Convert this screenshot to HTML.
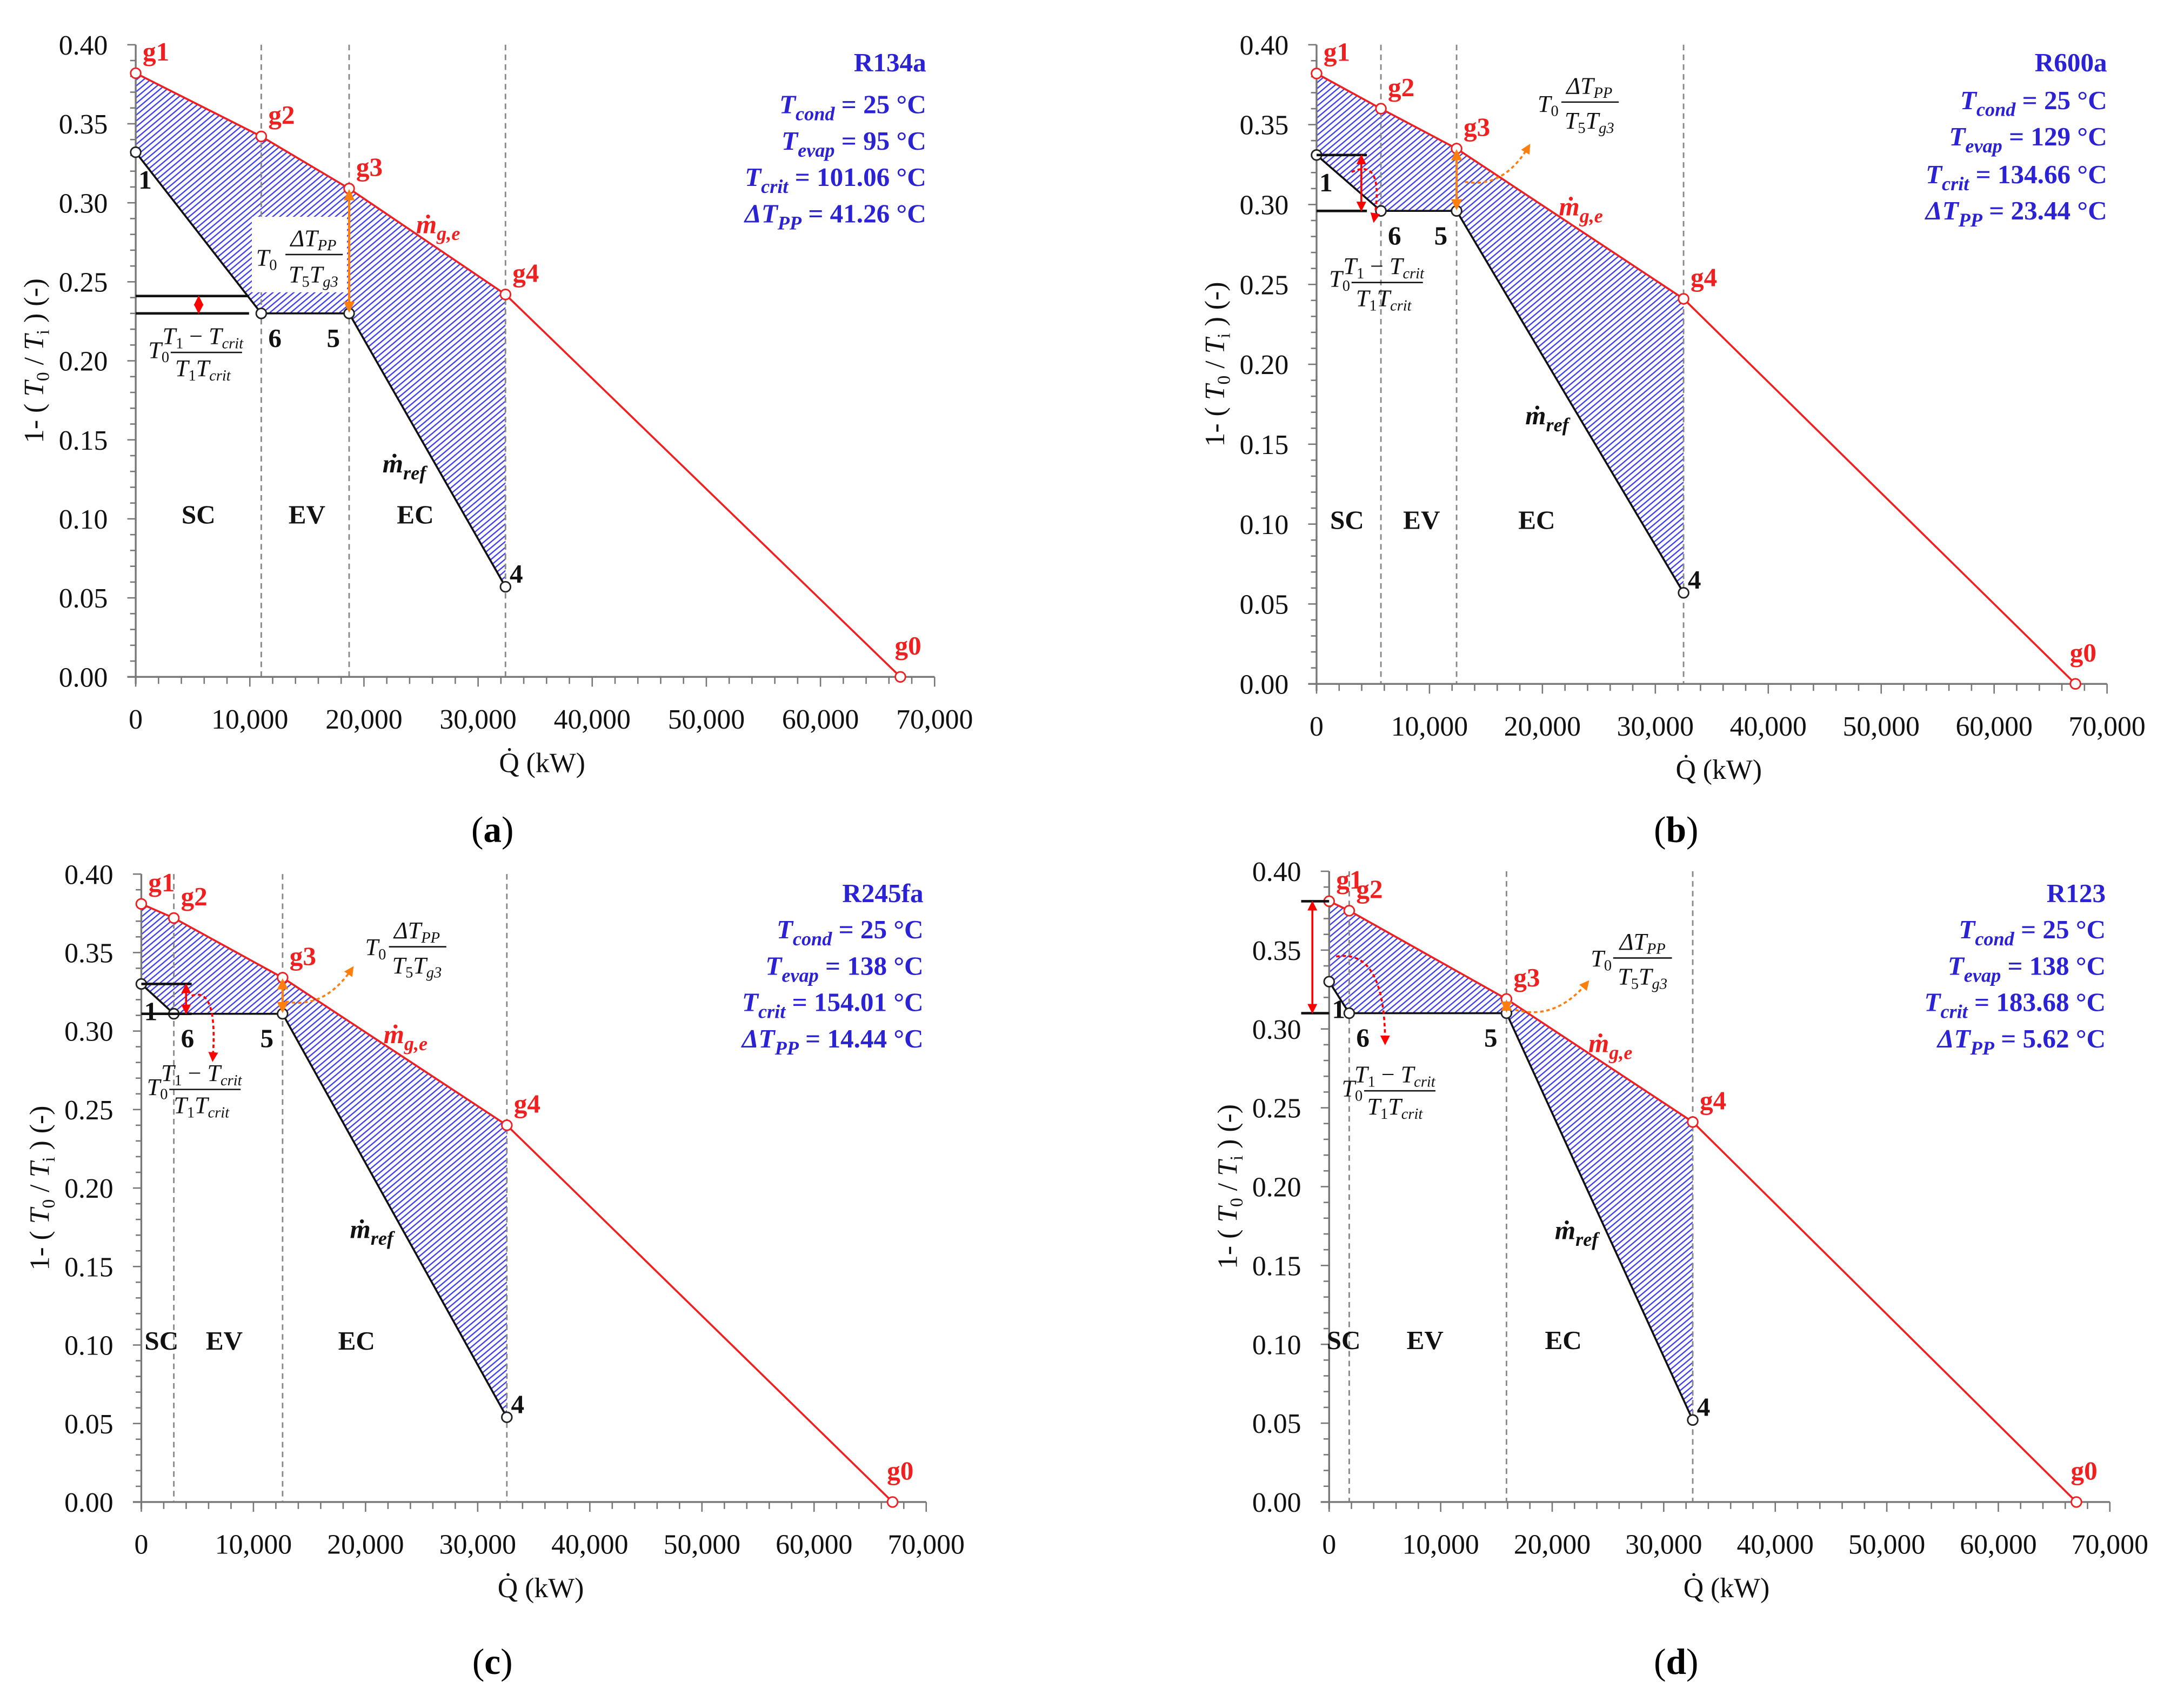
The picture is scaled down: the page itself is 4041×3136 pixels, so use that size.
<!DOCTYPE html>
<html><head><meta charset="utf-8">
<style>
html,body{margin:0;padding:0;background:#fff;}
svg{display:block;}
.tk{font-family:"Liberation Serif",serif;font-size:20px;fill:#111;}
.info{font-family:"Liberation Serif",serif;font-size:19px;font-weight:bold;fill:#2b22d4;}
.fm{font-family:"Liberation Serif",serif;font-style:italic;font-size:17px;fill:#111;}
.pl{font-family:"Liberation Serif",serif;font-size:19px;font-weight:bold;}
</style></head>
<body>
<svg id="fig" width="4041" height="3136" viewBox="0 0 1561 1212" preserveAspectRatio="none" xmlns="http://www.w3.org/2000/svg">
<defs>
<pattern id="hatch" patternUnits="userSpaceOnUse" width="3.2" height="3.2" patternTransform="rotate(50)">
<line x1="0.8" y1="0" x2="0.8" y2="3.2" stroke="#3a3af0" stroke-width="0.9"/>
</pattern>
<marker id="ar" viewBox="0 0 10 10" refX="8" refY="5" markerWidth="5" markerHeight="5" orient="auto-start-reverse"><path d="M0,0 L10,5 L0,10 z" fill="red"/></marker>
<marker id="ao" viewBox="0 0 10 10" refX="8" refY="5" markerWidth="5" markerHeight="5" orient="auto-start-reverse"><path d="M0,0 L10,5 L0,10 z" fill="#ff7f0e"/></marker>
</defs>
<g id="layer"></g>

<!-- info blocks -->
<g class="info" text-anchor="end">
<text x="662" y="51">R134a</text>
<text x="662" y="81"><tspan font-style="italic">T</tspan><tspan font-style="italic" font-size="14" dy="5">cond</tspan><tspan dy="-5"> = 25 °C</tspan></text>
<text x="662" y="107"><tspan font-style="italic">T</tspan><tspan font-style="italic" font-size="14" dy="5">evap</tspan><tspan dy="-5"> = 95 °C</tspan></text>
<text x="662" y="133"><tspan font-style="italic">T</tspan><tspan font-style="italic" font-size="14" dy="5">crit</tspan><tspan dy="-5"> = 101.06 °C</tspan></text>
<text x="662" y="159"><tspan font-style="italic">ΔT</tspan><tspan font-style="italic" font-size="14" dy="5">PP</tspan><tspan dy="-5"> = 41.26 °C</tspan></text>
</g>
<g class="info" text-anchor="end">
<text x="1506" y="51">R600a</text>
<text x="1506" y="78"><tspan font-style="italic">T</tspan><tspan font-style="italic" font-size="14" dy="5">cond</tspan><tspan dy="-5"> = 25 °C</tspan></text>
<text x="1506" y="104"><tspan font-style="italic">T</tspan><tspan font-style="italic" font-size="14" dy="5">evap</tspan><tspan dy="-5"> = 129 °C</tspan></text>
<text x="1506" y="131"><tspan font-style="italic">T</tspan><tspan font-style="italic" font-size="14" dy="5">crit</tspan><tspan dy="-5"> = 134.66 °C</tspan></text>
<text x="1506" y="157"><tspan font-style="italic">ΔT</tspan><tspan font-style="italic" font-size="14" dy="5">PP</tspan><tspan dy="-5"> = 23.44 °C</tspan></text>
</g>
<g class="info" text-anchor="end">
<text x="660" y="645">R245fa</text>
<text x="660" y="671"><tspan font-style="italic">T</tspan><tspan font-style="italic" font-size="14" dy="5">cond</tspan><tspan dy="-5"> = 25 °C</tspan></text>
<text x="660" y="697"><tspan font-style="italic">T</tspan><tspan font-style="italic" font-size="14" dy="5">evap</tspan><tspan dy="-5"> = 138 °C</tspan></text>
<text x="660" y="723"><tspan font-style="italic">T</tspan><tspan font-style="italic" font-size="14" dy="5">crit</tspan><tspan dy="-5"> = 154.01 °C</tspan></text>
<text x="660" y="749"><tspan font-style="italic">ΔT</tspan><tspan font-style="italic" font-size="14" dy="5">PP</tspan><tspan dy="-5"> = 14.44 °C</tspan></text>
</g>
<g class="info" text-anchor="end">
<text x="1505" y="645">R123</text>
<text x="1505" y="671"><tspan font-style="italic">T</tspan><tspan font-style="italic" font-size="14" dy="5">cond</tspan><tspan dy="-5"> = 25 °C</tspan></text>
<text x="1505" y="697"><tspan font-style="italic">T</tspan><tspan font-style="italic" font-size="14" dy="5">evap</tspan><tspan dy="-5"> = 138 °C</tspan></text>
<text x="1505" y="723"><tspan font-style="italic">T</tspan><tspan font-style="italic" font-size="14" dy="5">crit</tspan><tspan dy="-5"> = 183.68 °C</tspan></text>
<text x="1505" y="749"><tspan font-style="italic">ΔT</tspan><tspan font-style="italic" font-size="14" dy="5">PP</tspan><tspan dy="-5"> = 5.62 °C</tspan></text>
</g>

<!-- panel labels -->
<text x="352" y="602" text-anchor="middle" font-family="Liberation Serif, serif" font-size="26">(<tspan font-weight="bold">a</tspan>)</text>
<text x="1198" y="602" text-anchor="middle" font-family="Liberation Serif, serif" font-size="26">(<tspan font-weight="bold">b</tspan>)</text>
<text x="352" y="1197" text-anchor="middle" font-family="Liberation Serif, serif" font-size="26">(<tspan font-weight="bold">c</tspan>)</text>
<text x="1198" y="1197" text-anchor="middle" font-family="Liberation Serif, serif" font-size="26">(<tspan font-weight="bold">d</tspan>)</text>

<!-- formulas panel a -->
<g class="fm">
<rect x="180" y="155" width="68" height="54" fill="#fff"/>
<text x="183" y="190">T<tspan font-size="11" dy="3" font-style="normal">0</tspan></text>
<text x="224" y="176" text-anchor="middle">ΔT<tspan font-size="11" dy="3">PP</tspan></text>
<line x1="204" y1="182" x2="245" y2="182" stroke="#111" stroke-width="1"/>
<text x="224" y="202" text-anchor="middle">T<tspan font-size="11" dy="3" font-style="normal">5</tspan><tspan dy="-3">T</tspan><tspan font-size="11" dy="3">g3</tspan></text>
</g>
<g class="fm">
<text x="106" y="256">T<tspan font-size="11" dy="3" font-style="normal">0</tspan></text>
<text x="145" y="246" text-anchor="middle">T<tspan font-size="11" dy="3" font-style="normal">1</tspan><tspan dy="-3" font-style="normal"> − </tspan>T<tspan font-size="11" dy="3">crit</tspan></text>
<line x1="122" y1="252" x2="173" y2="252" stroke="#111" stroke-width="1"/>
<text x="145" y="269" text-anchor="middle">T<tspan font-size="11" dy="3" font-style="normal">1</tspan><tspan dy="-3">T</tspan><tspan font-size="11" dy="3">crit</tspan></text>
</g>
<!-- formulas panel b -->
<g class="fm">
<text x="1099" y="80">T<tspan font-size="11" dy="3" font-style="normal">0</tspan></text>
<text x="1136" y="67" text-anchor="middle">ΔT<tspan font-size="11" dy="3">PP</tspan></text>
<line x1="1116" y1="73" x2="1157" y2="73" stroke="#111" stroke-width="1"/>
<text x="1136" y="92" text-anchor="middle">T<tspan font-size="11" dy="3" font-style="normal">5</tspan><tspan dy="-3">T</tspan><tspan font-size="11" dy="3">g3</tspan></text>
</g>
<g class="fm">
<text x="950" y="205">T<tspan font-size="11" dy="3" font-style="normal">0</tspan></text>
<text x="989" y="196" text-anchor="middle">T<tspan font-size="11" dy="3" font-style="normal">1</tspan><tspan dy="-3" font-style="normal"> − </tspan>T<tspan font-size="11" dy="3">crit</tspan></text>
<line x1="966" y1="202" x2="1017" y2="202" stroke="#111" stroke-width="1"/>
<text x="989" y="219" text-anchor="middle">T<tspan font-size="11" dy="3" font-style="normal">1</tspan><tspan dy="-3">T</tspan><tspan font-size="11" dy="3">crit</tspan></text>
</g>
<!-- formulas panel c -->
<g class="fm">
<text x="261" y="683">T<tspan font-size="11" dy="3" font-style="normal">0</tspan></text>
<text x="298" y="671" text-anchor="middle">ΔT<tspan font-size="11" dy="3">PP</tspan></text>
<line x1="278" y1="677" x2="319" y2="677" stroke="#111" stroke-width="1"/>
<text x="298" y="696" text-anchor="middle">T<tspan font-size="11" dy="3" font-style="normal">5</tspan><tspan dy="-3">T</tspan><tspan font-size="11" dy="3">g3</tspan></text>
</g>
<g class="fm">
<text x="105" y="783">T<tspan font-size="11" dy="3" font-style="normal">0</tspan></text>
<text x="144" y="773" text-anchor="middle">T<tspan font-size="11" dy="3" font-style="normal">1</tspan><tspan dy="-3" font-style="normal"> − </tspan>T<tspan font-size="11" dy="3">crit</tspan></text>
<line x1="121" y1="779" x2="172" y2="779" stroke="#111" stroke-width="1"/>
<text x="144" y="796" text-anchor="middle">T<tspan font-size="11" dy="3" font-style="normal">1</tspan><tspan dy="-3">T</tspan><tspan font-size="11" dy="3">crit</tspan></text>
</g>
<!-- formulas panel d -->
<g class="fm">
<text x="1137" y="691">T<tspan font-size="11" dy="3" font-style="normal">0</tspan></text>
<text x="1174" y="679" text-anchor="middle">ΔT<tspan font-size="11" dy="3">PP</tspan></text>
<line x1="1153" y1="685" x2="1195" y2="685" stroke="#111" stroke-width="1"/>
<text x="1174" y="704" text-anchor="middle">T<tspan font-size="11" dy="3" font-style="normal">5</tspan><tspan dy="-3">T</tspan><tspan font-size="11" dy="3">g3</tspan></text>
</g>
<g class="fm">
<text x="959" y="784">T<tspan font-size="11" dy="3" font-style="normal">0</tspan></text>
<text x="997" y="774" text-anchor="middle">T<tspan font-size="11" dy="3" font-style="normal">1</tspan><tspan dy="-3" font-style="normal"> − </tspan>T<tspan font-size="11" dy="3">crit</tspan></text>
<line x1="975" y1="780" x2="1026" y2="780" stroke="#111" stroke-width="1"/>
<text x="997" y="797" text-anchor="middle">T<tspan font-size="11" dy="3" font-style="normal">1</tspan><tspan dy="-3">T</tspan><tspan font-size="11" dy="3">crit</tspan></text>
</g>

<!-- dotted curved pointers -->
<g fill="none" stroke-width="1.4" stroke-dasharray="2.5,2">
<path d="M966,123 Q990,112 982,158" stroke="red" marker-end="url(#ar)"/>
<path d="M1047,130 Q1075,135 1093,104" stroke="#ff7f0e" marker-end="url(#ao)"/>
<path d="M137,712 Q156,705 152,758" stroke="red" marker-end="url(#ar)"/>
<path d="M204,716 Q232,722 252,692" stroke="#ff7f0e" marker-end="url(#ao)"/>
<path d="M955,684 Q990,678 990,746" stroke="red" marker-end="url(#ar)"/>
<path d="M1083,722 Q1112,730 1135,702" stroke="#ff7f0e" marker-end="url(#ao)"/>
</g>
</svg>

<script>
// ---------- data (Q in kW, y = 1 - T0/Ti) ----------
const xTicks = [0, 10000, 20000, 30000, 40000, 50000, 60000, 70000];
const xTickLabels = ['0', '10,000', '20,000', '30,000', '40,000', '50,000', '60,000', '70,000'];
const yTicks = [0, 0.05, 0.10, 0.15, 0.20, 0.25, 0.30, 0.35, 0.40];
const yTickLabels = ['0.00', '0.05', '0.10', '0.15', '0.20', '0.25', '0.30', '0.35', '0.40'];
const gasLabels = ['g1', 'g2', 'g3', 'g4', 'g0'];
const refLabels = ['1', '6', '5', '4'];
const zoneLabels = ['SC', 'EV', 'EC'];

const gasQA = [0, 11000, 18700, 32400, 67000];
const gasYA = [0.382, 0.342, 0.309, 0.242, 0.0];
const refQA = [0, 11000, 18700, 32400];
const refYA = [0.332, 0.230, 0.230, 0.057];
const zoneQA = [5500, 15000, 24500];

const gasQB = [0, 5700, 12400, 32500, 67200];
const gasYB = [0.382, 0.360, 0.335, 0.241, 0.0];
const refQB = [0, 5700, 12400, 32500];
const refYB = [0.331, 0.296, 0.296, 0.057];
const zoneQB = [2700, 9300, 19500];

const gasQC = [0, 2900, 12600, 32600, 67000];
const gasYC = [0.381, 0.372, 0.334, 0.240, 0.0];
const refQC = [0, 2900, 12600, 32600];
const refYC = [0.330, 0.311, 0.311, 0.054];
const zoneQC = [1800, 7400, 19200];

const gasQD = [0, 1800, 15900, 32600, 67000];
const gasYD = [0.381, 0.375, 0.319, 0.241, 0.0];
const refQD = [0, 1800, 15900, 32600];
const refYD = [0.330, 0.310, 0.310, 0.052];
const zoneQD = [1300, 8600, 21000];

const NS = 'http://www.w3.org/2000/svg';
const layer = document.getElementById('layer');
function mk(tag, attrs, parent) {
  const e = document.createElementNS(NS, tag);
  for (const k in attrs) e.setAttribute(k, attrs[k]);
  (parent || layer).appendChild(e);
  return e;
}

const panels = [
  {id:'a', x0:97, x1:668, yb:484, yt:32, gq:gasQA, gy:gasYA, rq:refQA, ry:refYA, zq:zoneQA},
  {id:'b', x0:941, x1:1506, yb:489, yt:32, gq:gasQB, gy:gasYB, rq:refQB, ry:refYB, zq:zoneQB},
  {id:'c', x0:101, x1:662, yb:1074, yt:625, gq:gasQC, gy:gasYC, rq:refQC, ry:refYC, zq:zoneQC},
  {id:'d', x0:950, x1:1508, yb:1074, yt:623, gq:gasQD, gy:gasYD, rq:refQD, ry:refYD, zq:zoneQD}
];

panels.forEach(p => {
  const X = q => p.x0 + (q / 70000) * (p.x1 - p.x0);
  const Y = v => p.yb - (v / 0.40) * (p.yb - p.yt);
  const g = mk('g', {});
  
  

  const pts = [];
  for (let i = 0; i < 4; i++) pts.push(X(p.gq[i]) + ',' + Y(p.gy[i]));
  for (let i = 3; i >= 0; i--) pts.push(X(p.rq[i]) + ',' + Y(p.ry[i]));
  const hatch = mk('polygon', {points: pts.join(' '), fill: 'url(#hatch)', stroke: 'none'}, g);
  
  

  for (let i = 1; i < 4; i++) {
    const vl = mk('line', {x1: X(p.rq[i]), x2: X(p.rq[i]), y1: p.yt, y2: p.yb, stroke: '#888', 'stroke-width': 1.1, 'stroke-dasharray': '4,3'}, g);
    
    
  }

  const ya = mk('line', {x1: p.x0, x2: p.x0, y1: p.yt, y2: p.yb + 5, stroke: '#777', 'stroke-width': 1.3}, g);
  
  
  const xa = mk('line', {x1: p.x0 - 6, x2: p.x1, y1: p.yb, y2: p.yb, stroke: '#777', 'stroke-width': 1.3}, g);
  
  
  for (let v = 0; v <= 40; v++) {
    const yy = Y(v / 100);
    const t = mk('line', {x1: p.x0 - (v % 5 === 0 ? 6 : 4), x2: p.x0, y1: yy, y2: yy, stroke: '#777', 'stroke-width': 1}, g);
    
    
  }
  for (let q = 0; q <= 70000; q += 2000) {
    const xx = X(q);
    const t = mk('line', {x1: xx, x2: xx, y1: p.yb, y2: p.yb + (q % 10000 === 0 ? 7 : 5), stroke: '#777', 'stroke-width': 1}, g);
    
    
  }
  yTicks.forEach((v, i) => {
    const t = mk('text', {x: p.x0 - 20, y: Y(v) + 7, 'text-anchor': 'end', class: 'tk'}, g);
    t.textContent = yTickLabels[i];
    
    
  });
  xTicks.forEach((v, i) => {
    const t = mk('text', {x: X(v), y: p.yb + 37, 'text-anchor': 'middle', class: 'tk'}, g);
    t.textContent = xTickLabels[i];
    
    
  });

  const xt = mk('text', {x: (p.x0 + p.x1) / 2 + 5, y: p.yb + 68, 'text-anchor': 'middle', class: 'tk'}, g);
  xt.textContent = 'Q\u0307 (kW)';
  
  
  const cy = (p.yt + p.yb) / 2;
  const yt = mk('text', {x: p.x0 - 66, y: cy, 'text-anchor': 'middle', class: 'tk', transform: 'rotate(-90 ' + (p.x0 - 66) + ' ' + cy + ')'}, g);
  yt.innerHTML = '1- ( <tspan font-style="italic">T</tspan><tspan font-size="13" dy="4">0</tspan><tspan dy="-4"> / </tspan><tspan font-style="italic">T</tspan><tspan font-size="13" dy="4">i</tspan><tspan dy="-4"> ) (-)</tspan>';
  
  

  const gl = mk('polyline', {points: p.gq.map((q, i) => X(q) + ',' + Y(p.gy[i])).join(' '), fill: 'none', stroke: '#f02020', 'stroke-width': 1.4}, g);
  
  
  const rl = mk('polyline', {points: p.rq.map((q, i) => X(q) + ',' + Y(p.ry[i])).join(' '), fill: 'none', stroke: '#111', 'stroke-width': 1.4}, g);
  
  

  p.zq.forEach((q, i) => {
    const t = mk('text', {x: X(q), y: Y(0.097), 'text-anchor': 'middle', class: 'pl', fill: '#111'}, g);
    t.textContent = zoneLabels[i];
    
    
  });

  p.gq.forEach((q, i) => {
    const c = mk('circle', {cx: X(q), cy: Y(p.gy[i]), r: 3.6, fill: '#fff', stroke: '#f02020', 'stroke-width': 1.1}, g);
    
    
    const dx = i === 4 ? -4 : 5, dy = i === 4 ? -16 : -9;
    const t = mk('text', {x: X(q) + dx, y: Y(p.gy[i]) + dy, class: 'pl', fill: '#f02020'}, g);
    t.textContent = gasLabels[i];
    
    
  });
  p.rq.forEach((q, i) => {
    const c = mk('circle', {cx: X(q), cy: Y(p.ry[i]), r: 3.6, fill: '#fff', stroke: '#222', 'stroke-width': 1.1}, g);
    
    
    const off = [[2, 26], [5, 24], [-16, 24], [3, -3]][i];
    const t = mk('text', {x: X(q) + off[0], y: Y(p.ry[i]) + off[1], class: 'pl', fill: '#111'}, g);
    t.textContent = refLabels[i];
    
    
  });

  const mg = mk('text', {x: X((p.gq[2] + p.gq[3]) / 2) - 8, y: Y((p.gy[2] + p.gy[3]) / 2) - 6, class: 'pl', fill: '#f02020', 'font-style': 'italic'}, g);
  mg.innerHTML = 'm\u0307<tspan font-size="14" dy="5">g,e</tspan>';
  
  
  const mr = mk('text', {x: X((p.rq[2] + p.rq[3]) / 2) - 32, y: Y((p.ry[2] + p.ry[3]) / 2) + 16, class: 'pl', fill: '#111', 'font-style': 'italic'}, g);
  mr.innerHTML = 'm\u0307<tspan font-size="14" dy="5">ref</tspan>';
  
  

  const oa = mk('line', {x1: X(p.gq[2]), x2: X(p.gq[2]), y1: Y(p.gy[2]) + 2, y2: Y(p.ry[2]) - 2, stroke: '#ff7f0e', 'stroke-width': 1.6, 'marker-start': 'url(#ao)', 'marker-end': 'url(#ao)'}, g);
  
  

  let yA, yB, xL, xR, xArr;
  if (p.id === 'd') { yA = p.gy[0]; yB = p.ry[1]; xL = p.x0 - 20; xR = p.x0; xArr = p.x0 - 12; }
  else if (p.id === 'a') { yA = 0.241; yB = p.ry[1]; xL = p.x0; xR = p.x0 + 81; xArr = p.x0 + 45; }
  else { yA = p.ry[0]; yB = p.ry[1]; xL = p.x0; xR = p.x0 + 36; xArr = p.x0 + 32; }
  [yA, yB].forEach(v => {
    const bl = mk('line', {x1: xL, x2: xR, y1: Y(v), y2: Y(v), stroke: '#111', 'stroke-width': 1.8}, g);
    
    
  });
  const ra = mk('line', {x1: xArr, x2: xArr, y1: Y(yA) + 1, y2: Y(yB) - 1, stroke: 'red', 'stroke-width': 1.4, 'marker-start': 'url(#ar)', 'marker-end': 'url(#ar)'}, g);
  
  
});
</script>
</body></html>
